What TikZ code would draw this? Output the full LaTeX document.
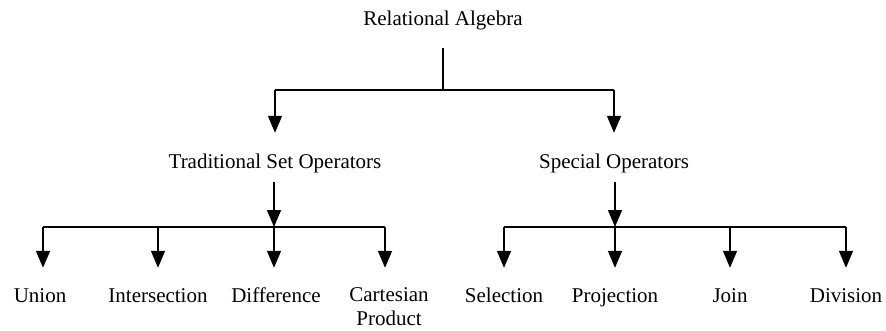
\documentclass[tikz,border=0pt]{standalone}
\usepackage{fontspec}
\setmainfont{Liberation Serif}
\usetikzlibrary{arrows.meta}
\begin{document}
\begin{tikzpicture}[x=1pt,y=-1pt,
  lbl/.style={inner sep=0pt,text height=14pt,text depth=4pt,font=\fontsize{21}{24}\selectfont},
  ln/.style={line width=1.6pt},
  arr/.style={ln,-{Triangle[length=17pt,width=14pt]}}]
\useasboundingbox[fill=white] (0,0) rectangle (886,330);
% nodes
\node[lbl] (ra) at (443,20) {Relational Algebra};
\node[lbl] (tso) at (275,163) {Traditional Set Operators};
\node[lbl] (so) at (614,163) {Special Operators};
\node[lbl] (union) at (40,297) {Union};
\node[lbl] (inter) at (158,297) {Intersection};
\node[lbl] (diff) at (276,297) {Difference};
\node[lbl,align=center,text height=,text depth=] (cart) at (389,307) {Cartesian\\Product};
\node[lbl] (sel) at (504,297) {Selection};
\node[lbl] (proj) at (615,297) {Projection};
\node[lbl] (join) at (730,297) {Join};
\node[lbl] (div) at (846,297) {Division};
% junctions
\coordinate (raout) at (443,48);
\coordinate (j0) at (443,90);
\coordinate (jl) at (275,90);
\coordinate (jr) at (614,90);
\coordinate (tsoout) at (274,182);
\coordinate (t0) at (274,227);
\coordinate (t1) at (43,227);
\coordinate (t2) at (158,227);
\coordinate (t4) at (385,227);
\coordinate (soout) at (615,182);
\coordinate (s0) at (615,227);
\coordinate (s1) at (504,227);
\coordinate (s3) at (730,227);
\coordinate (s4) at (846,227);
% top level
\draw[ln] (raout) -- (j0);
\draw[ln] (jl) -- (jr);
\draw[arr,shorten >=21pt] (jl) -- (tso.north);
\draw[arr,shorten >=21pt] (jr) -- (so.north);
% left subtree
\draw[arr] (tsoout) -- (t0);
\draw[ln] (t1) -- (t4);
\draw[arr,shorten >=20pt] (t1) -- (t1 |- union.north);
\draw[arr,shorten >=20pt] (t2) -- (t2 |- inter.north);
\draw[arr,shorten >=20pt] (t0) -- (t0 |- diff.north);
\draw[arr,shorten >=20pt] (t4) -- (t4 |- union.north);
% right subtree
\draw[arr] (soout) -- (s0);
\draw[ln] (s1) -- (s4);
\draw[arr,shorten >=20pt] (s1) -- (sel.north);
\draw[arr,shorten >=20pt] (s0) -- (proj.north);
\draw[arr,shorten >=20pt] (s3) -- (join.north);
\draw[arr,shorten >=20pt] (s4) -- (div.north);
\end{tikzpicture}
\end{document}
